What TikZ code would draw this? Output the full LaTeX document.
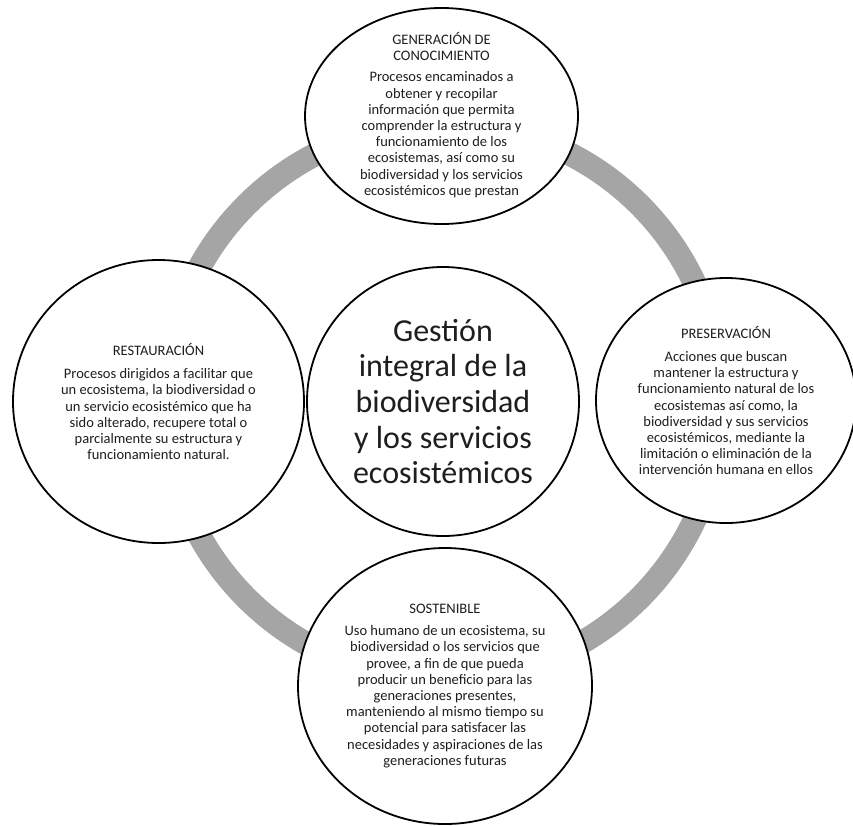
\documentclass[tikz,border=0pt]{standalone}
\usepackage{fontspec}
\setmainfont{Carlito}
\usetikzlibrary{shapes.geometric}
\definecolor{ringgray}{HTML}{A5A5A5}
\definecolor{txtgray}{HTML}{1E1E1E}
\tikzset{
  bubble/.style={draw=black, line width=1.8pt, fill=white, ellipse, inner sep=0pt},
  ringline/.style={draw=ringgray, line width=23.5pt},
  smalltxt/.style={align=center, inner sep=0pt, text=txtgray, font=\fontsize{14.5}{16.2}\selectfont},
  bigtxt/.style={align=center, inner sep=0pt, text=txtgray, font=\fontsize{32}{35.6}\selectfont}
}
\begin{document}
\begin{tikzpicture}[x=1pt, y=-1pt]
\useasboundingbox (0,0) rectangle (853,825);
\clip (0,0) rectangle (853,825);
\fill[white] (0,0) rectangle (853,825);
% ring behind everything
\coordinate (hub) at (443,401.5);
\draw[ringline] (hub) circle[radius=278pt];
% centre
\node[bubble, minimum width=272pt, minimum height=269pt] (gest) at (hub) {};
\node[bigtxt] (gesttxt) at (gest.center) {Gestión\\integral de la\\biodiversidad\\y los servicios\\ecosistémicos};
% top
\node[bubble, minimum width=273pt, minimum height=216pt] (gen) at (441.5,116) {};
\node[smalltxt] (gentxt) at ([yshift=1pt]gen.center) {GENERACIÓN DE\\CONOCIMIENTO\\[5pt]Procesos encaminados a\\obtener y recopilar\\información que permita\\comprender la estructura y\\funcionamiento de los\\ecosistemas, así como su\\biodiversidad y los servicios\\ecosistémicos que prestan};
% left
\node[bubble, minimum width=291pt, minimum height=283pt] (res) at (158.5,401.5) {};
\node[smalltxt] (restxt) at (res.center) {RESTAURACIÓN\\[7pt]Procesos dirigidos a facilitar que\\un ecosistema, la biodiversidad o\\un servicio ecosistémico que ha\\sido alterado, recupere total o\\parcialmente su estructura y\\funcionamiento natural.};
% right
\node[bubble, minimum width=260pt, minimum height=245pt] (pre) at (726,400.5) {};
\node[smalltxt] (pretxt) at (pre.center) {PRESERVACIÓN\\[7pt]Acciones que buscan\\mantener la estructura y\\funcionamiento natural de los\\ecosistemas así como, la\\biodiversidad y sus servicios\\ecosistémicos, mediante la\\limitación o eliminación de la\\intervención humana en ellos};
% bottom
\node[bubble, minimum width=294pt, minimum height=276pt] (sos) at (445,686) {};
\node[smalltxt] (sostxt) at (sos.center) {SOSTENIBLE\\[6pt]Uso humano de un ecosistema, su\\biodiversidad o los servicios que\\provee, a fin de que pueda\\producir un beneficio para las\\generaciones presentes,\\manteniendo al mismo tiempo su\\potencial para satisfacer las\\necesidades y aspiraciones de las\\generaciones futuras};
\end{tikzpicture}
\end{document}
